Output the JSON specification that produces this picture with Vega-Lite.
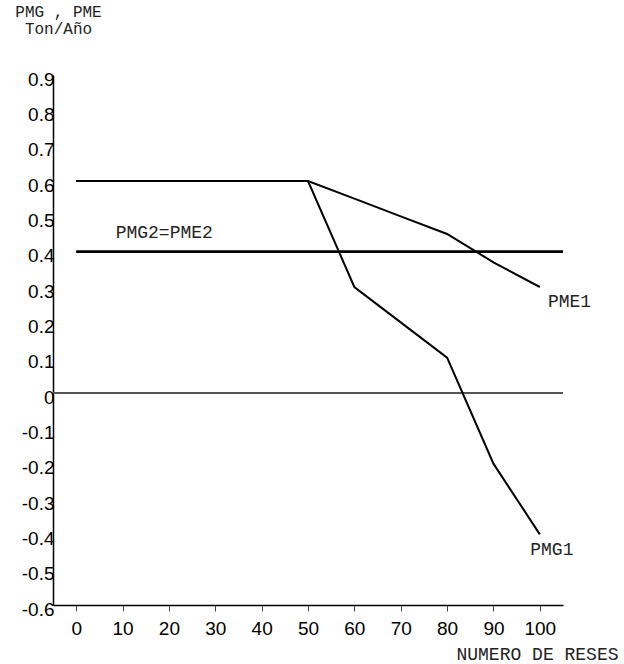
{
  "$schema": "https://vega.github.io/schema/vega-lite/v6.json",
  "width": 510,
  "height": 530,
  "autosize": {"type": "none"},
  "padding": {"left": 53, "top": 75, "right": 61, "bottom": 59},
  "background": "white",
  "config": {"view": {"stroke": null}},
  "datasets": {
    "lines": [
      {"series": "zero", "x": -5, "y": 0},
      {"series": "zero", "x": 105, "y": 0},
      {"series": "PME1", "x": 0, "y": 0.6},
      {"series": "PME1", "x": 50, "y": 0.6},
      {"series": "PME1", "x": 60, "y": 0.55},
      {"series": "PME1", "x": 70, "y": 0.5},
      {"series": "PME1", "x": 80, "y": 0.45},
      {"series": "PME1", "x": 90, "y": 0.37},
      {"series": "PME1", "x": 100, "y": 0.3},
      {"series": "PMG1", "x": 0, "y": 0.6},
      {"series": "PMG1", "x": 50, "y": 0.6},
      {"series": "PMG1", "x": 60, "y": 0.3},
      {"series": "PMG1", "x": 70, "y": 0.2},
      {"series": "PMG1", "x": 80, "y": 0.1},
      {"series": "PMG1", "x": 90, "y": -0.2},
      {"series": "PMG1", "x": 100, "y": -0.4},
      {"series": "PMG2=PME2", "x": 0, "y": 0.4},
      {"series": "PMG2=PME2", "x": 105, "y": 0.4}
    ],
    "labels": [
      {"label": "PMG2=PME2", "x": 19, "y": 0.453},
      {"label": "PME1", "x": 106.4, "y": 0.258},
      {"label": "PMG1", "x": 102.6, "y": -0.445}
    ]
  },
  "encoding": {
    "x": {
      "field": "x", "type": "quantitative",
      "scale": {"domain": [-5, 105], "nice": false, "zero": false},
      "axis": {
        "values": [0, 10, 20, 30, 40, 50, 60, 70, 80, 90, 100],
        "grid": false, "domainColor": "black", "domainWidth": 1.5,
        "tickColor": "#444444", "tickSize": 6,
        "labelFont": "Liberation Sans", "labelFontSize": 19, "labelColor": "black",
        "labelPadding": 8, "labelOverlap": false, "labelFlush": false, "labelBound": false,
        "title": "NUMERO DE RESES",
        "titleFont": "Liberation Mono", "titleFontSize": 18, "titleFontWeight": "normal",
        "titleColor": "#222222", "titleAnchor": "end", "titleAlign": "right",
        "titleX": 565, "titleY": 54, "titleBaseline": "alphabetic"
      }
    },
    "y": {
      "field": "y", "type": "quantitative",
      "scale": {"domain": [-0.6, 0.9], "nice": false, "zero": false},
      "axis": {
        "values": [-0.6, -0.5, -0.4, -0.3, -0.2, -0.1, 0, 0.1, 0.2, 0.3, 0.4, 0.5, 0.6, 0.7, 0.8, 0.9],
        "labelExpr": "datum.value + ''",
        "grid": false, "ticks": false, "domainColor": "black", "domainWidth": 1.5,
        "labelFont": "Liberation Sans", "labelFontSize": 19, "labelColor": "black",
        "labelPadding": -1, "labelOffset": 4,
        "labelOverlap": false, "labelFlush": false, "labelBound": false,
        "title": ["PMG , PME", "Ton/Año"],
        "titleFont": "Liberation Mono", "titleFontSize": 16, "titleFontWeight": "normal",
        "titleColor": "#222222", "titleAngle": 0, "titleAlign": "center",
        "titleBaseline": "top", "titleX": 5, "titleY": -72, "titleLineHeight": 17
      }
    }
  },
  "layer": [
    {
      "data": {"name": "lines"},
      "mark": {"type": "line"},
      "encoding": {
        "detail": {"field": "series"},
        "color": {
          "condition": {"test": "datum.series === 'zero'", "value": "#555555"},
          "value": "black"
        },
        "strokeWidth": {
          "condition": {"test": "datum.series === 'PMG2=PME2'", "value": 2.6},
          "value": 2
        }
      }
    },
    {
      "data": {"name": "labels"},
      "mark": {"type": "text", "font": "Liberation Mono", "fontSize": 18, "color": "#222222", "align": "center", "baseline": "middle"},
      "encoding": {
        "text": {"field": "label"}
      }
    }
  ]
}
